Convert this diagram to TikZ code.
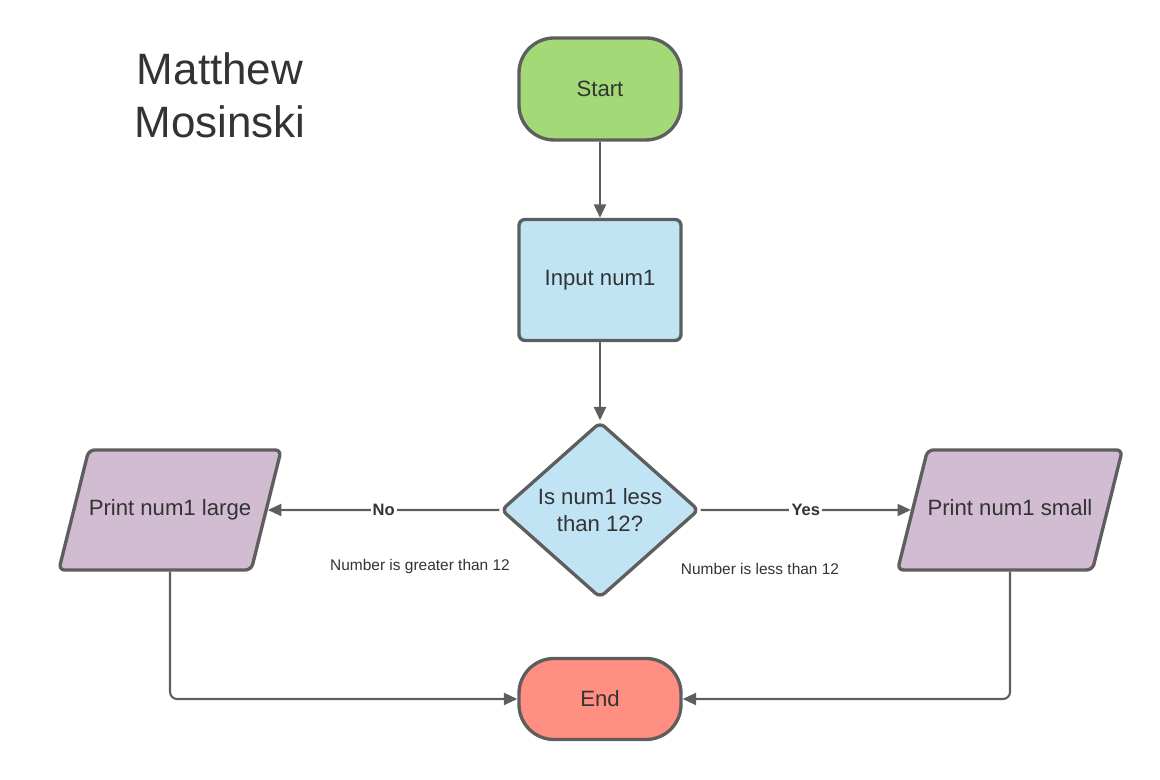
\documentclass[tikz,border=0pt]{standalone}
\usepackage{fontspec}
\setmainfont{Liberation Sans}
\usetikzlibrary{shapes.geometric}
\usetikzlibrary{arrows.meta}

\definecolor{edgegray}{HTML}{5E5E5E}
\definecolor{textgray}{HTML}{333333}
\definecolor{startgreen}{HTML}{A3D977}
\definecolor{inputblue}{HTML}{C1E4F5}
\definecolor{printpurple}{HTML}{D1BCD2}
\definecolor{endred}{HTML}{FF8F80}

\begin{document}
\begin{tikzpicture}[%
  >={Triangle[length=3.8pt,width=3.4pt]},
  shape box/.style={draw=edgegray, line width=0.95pt, text=textgray,
    font=\fontsize{6.3}{7.6}\selectfont, inner sep=0pt, align=center},
  terminal/.style={shape box, rectangle, rounded corners=0.35cm,
    minimum width=1.62cm},
  process/.style={shape box, rectangle, rounded corners=0.06cm,
    minimum width=1.62cm, minimum height=1.21cm, fill=inputblue},
  decision/.style={shape box, diamond, rounded corners=0.06cm,
    minimum width=1.98cm, minimum height=1.76cm, fill=inputblue},
  output/.style={shape box, trapezium, trapezium left angle=76,
    trapezium right angle=104, trapezium stretches body,
    text height=4.6pt, text depth=1.4pt, inner ysep=0.495cm,
    rounded corners=0.06cm, minimum width=2.16cm, fill=printpurple},
  conn/.style={draw=edgegray, line width=0.6pt},
  branch/.style={fill=white, inner sep=0.6pt, text=textgray,
    font=\bfseries\fontsize{4.7}{5}\selectfont},
  note/.style={text=textgray, font=\fontsize{4.4}{5}\selectfont},
]

  \useasboundingbox (0,0) rectangle (11.6,7.8);

  \node[text=textgray, align=center, font=\fontsize{12.5}{15}\selectfont]
    (author) at (2.2,6.85) {Matthew\\Mosinski};

  \node[terminal, minimum height=1.02cm, fill=startgreen] (start) at (6.0,6.91) {Start};
  \node[process] (input) at (6.0,5.0) {Input num1};
  \node[decision] (check) at (6.0,2.7) {Is num1 less\\than 12?};
  \node[output] (large) at (1.70,2.7) {Print num1 large};
  \node[output] (small) at (10.10,2.7) {Print num1 small};
  \node[terminal, minimum height=0.81cm, fill=endred] (stop) at (6.0,0.81) {End};

  \node[note] (greater) at (4.2,2.13) {Number is greater than 12};
  \node[note] (less) at (7.6,2.11) {Number is less than 12};

  \draw[conn,->] (start) -- (input);
  \draw[conn,->] (input) -- (check);
  \draw[conn,->] (check) -- node[branch] {No} (large);
  \draw[conn,->] (check) -- node[branch] {Yes} (small);
  \draw[conn,->,rounded corners=2pt] (large.south) |- (stop.west);
  \draw[conn,->,rounded corners=2pt] (small.south) |- (stop.east);

\end{tikzpicture}
\end{document}
